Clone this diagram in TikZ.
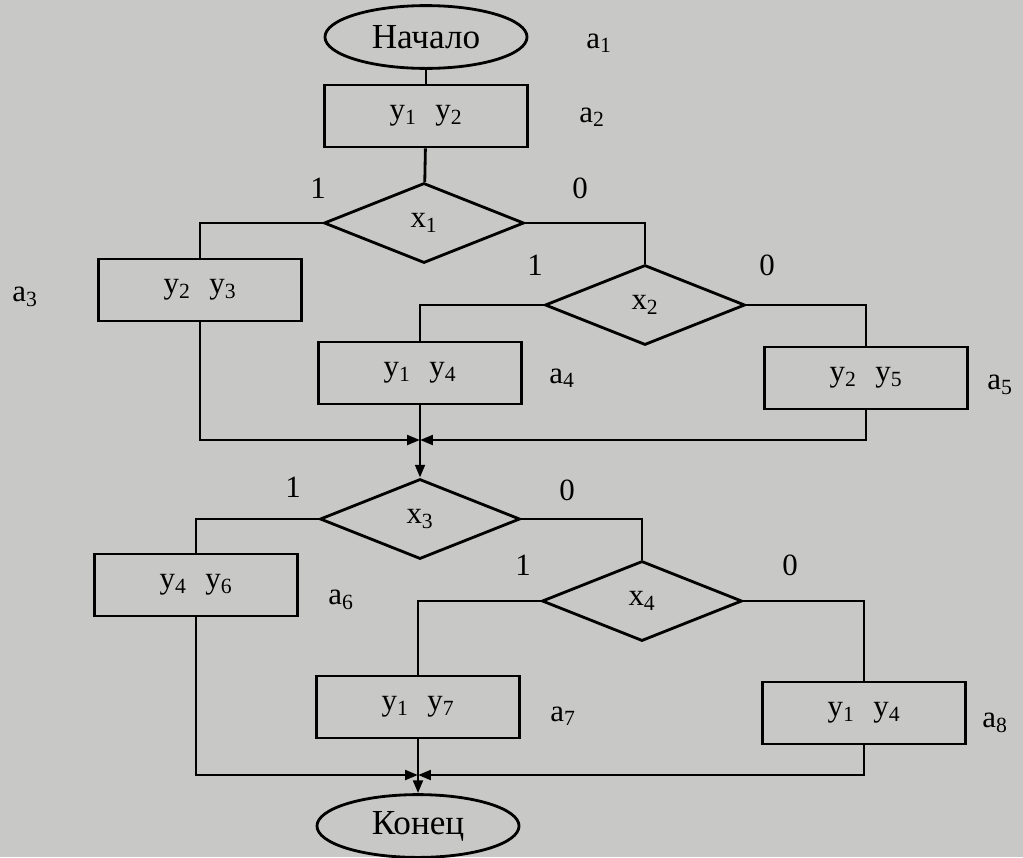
\documentclass[tikz,border=0pt]{standalone}
\usepackage{fontspec}
\setmainfont{Liberation Serif}
\usepackage{tikz}
\usetikzlibrary{shapes.geometric,arrows.meta}

\definecolor{paper}{RGB}{200,200,198}

\tikzset{
    term/.style={ellipse, draw, line width=2pt, minimum width=5.05cm, minimum height=1.57cm, inner sep=0pt, font=\fontsize{25}{29}\selectfont},
    opbox/.style={rectangle, draw, line width=2pt, minimum width=5.08cm, minimum height=1.55cm, inner sep=0pt},
    cond/.style={diamond, draw, line width=2pt, minimum width=5cm, minimum height=2cm, inner sep=0pt},
    flow/.style={line width=2pt},
    lbl/.style={inner sep=0pt},
}

\newcommand{\yy}[2]{y\textsubscript{#1}\hspace{0.6em}y\textsubscript{#2}}

\begin{document}
\begin{tikzpicture}[x=0.025cm, y=-0.025cm, font=\fontsize{22}{26}\selectfont,
    >={Triangle[length=3.2mm,width=2.4mm]}]

        \useasboundingbox (0,0) rectangle (1023,857);
        \fill[paper] (0,0) rectangle (1023,857);

        % blocks
        \node[term] (start) at (426,37) {Начало};
        \node[opbox] (op2) at (426,116) {\yy12};
        \node[cond] (c1) at (424,223) {x\textsubscript{1}};
        \node[opbox] (op3) at (200,290) {\yy23};
        \node[cond] (c2) at (645,305) {x\textsubscript{2}};
        \node[opbox] (op4) at (420,373) {\yy14};
        \node[opbox] (op5) at (866,378) {\yy25};
        \coordinate (j1) at (420,440);

        \node[cond] (c3) at (420,519) {x\textsubscript{3}};
        \node[opbox] (op6) at (196,585) {\yy46};
        \node[cond] (c4) at (642,601) {x\textsubscript{4}};
        \node[opbox] (op7) at (418,707) {\yy17};
        \node[opbox] (op8) at (864,713) {\yy14};
        \coordinate (j2) at (418,775);
        \node[term] (stop) at (418,826) {Конец};

        % state marks
        \node[lbl] (a1) at (599,43) {a\textsubscript{1}};
        \node[lbl] (a2) at (592,117) {a\textsubscript{2}};
        \node[lbl] (a3) at (25,297) {a\textsubscript{3}};
        \node[lbl] (a4) at (562,378) {a\textsubscript{4}};
        \node[lbl] (a5) at (1000,385) {a\textsubscript{5}};
        \node[lbl] (a6) at (341,600) {a\textsubscript{6}};
        \node[lbl] (a7) at (563,716) {a\textsubscript{7}};
        \node[lbl] (a8) at (995,723) {a\textsubscript{8}};

        % branch values
        \node[lbl] (t1) at (318,188) {1};
        \node[lbl] (f1) at (580,188) {0};
        \node[lbl] (t2) at (535,265) {1};
        \node[lbl] (f2) at (767,265) {0};
        \node[lbl] (t3) at (293,487) {1};
        \node[lbl] (f3) at (567,490) {0};
        \node[lbl] (t4) at (523,565) {1};
        \node[lbl] (f4) at (790,565) {0};

        % connectors
        \draw[flow] (start) -- (op2);
        \draw[flow] (op2) -- (c1);
        \draw[flow] (c1.west) -| (op3);
        \draw[flow] (c1.east) -| (c2);
        \draw[flow] (c2.west) -| (op4);
        \draw[flow] (c2.east) -| (op5);
        \draw[flow,->] (op3) |- (j1);
        \draw[flow,->] (op5) |- (j1);
        \draw[flow] (op4) -- (j1);
        \draw[flow,->] (j1) -- (c3);

        \draw[flow] (c3.west) -| (op6);
        \draw[flow] (c3.east) -| (c4);
        \draw[flow] (c4.west) -| (op7);
        \draw[flow] (c4.east) -| (op8);
        \draw[flow,->] (op6) |- (j2);
        \draw[flow,->] (op8) |- (j2);
        \draw[flow] (op7) -- (j2);
        \draw[flow,->] (j2) -- (stop);

    \end{tikzpicture}
\end{document}
